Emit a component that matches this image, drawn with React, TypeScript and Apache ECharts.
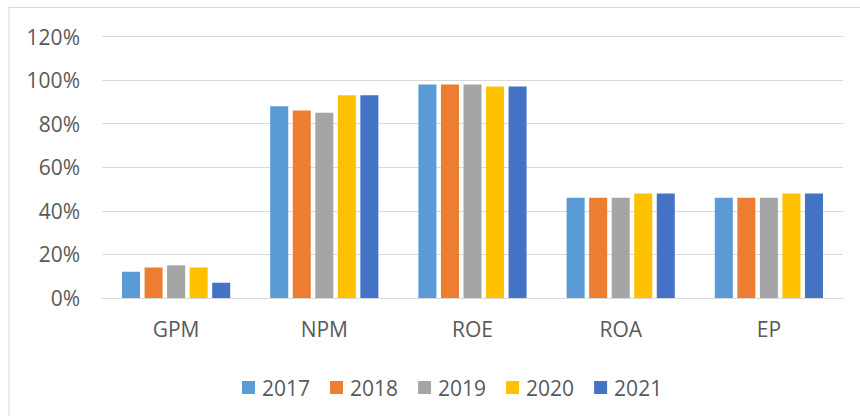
import React, { useEffect, useRef } from "react";
import * as echarts from "echarts";

const categories = ["GPM", "NPM", "ROE", "ROA", "EP"];
const years = ["2017", "2018", "2019", "2020", "2021"];
const v2017 = [12, 88, 98, 46, 46];
const v2018 = [14, 86, 98, 46, 46];
const v2019 = [15, 85, 98, 46, 46];
const v2020 = [14, 93, 97, 48, 48];
const v2021 = [7, 93, 97, 48, 48];
const colors = ["#5B9BD5", "#ED7D31", "#A5A5A5", "#FFC000", "#4472C4"];

const seriesValues = [v2017, v2018, v2019, v2020, v2021];
const FONT = "'Open Sans', sans-serif";
const TEXT = "#595959";

export default function App() {
  const ref = useRef<HTMLDivElement>(null);
  useEffect(() => {
    if (!ref.current) return;
    const chart = echarts.init(ref.current, undefined, { renderer: "svg" });
    chart.setOption({
      animation: false,
      color: colors,
      textStyle: { fontFamily: FONT },
      graphic: [
        {
          type: "rect",
          shape: { x: 9, y: 7.5, width: 900, height: 500 },
          style: { fill: "none", stroke: "#d9d9d9", lineWidth: 1 },
          silent: true,
        },
      ],
      grid: { left: 102, right: 17, top: 36.5, bottom: 118, containLabel: false },
      legend: {
        data: years,
        top: 372,
        left: 237,
        icon: "rect",
        itemWidth: 13,
        itemHeight: 13,
        itemGap: 20,
        textStyle: { fontSize: 21, color: TEXT, fontFamily: FONT, padding: [0, 0, 0, 2] },
      },
      xAxis: {
        type: "category",
        data: categories,
        axisTick: { show: false },
        axisLine: { lineStyle: { color: "#d9d9d9", width: 1 } },
        axisLabel: { fontSize: 21, color: TEXT, margin: 20, fontFamily: FONT },
      },
      yAxis: {
        type: "value",
        min: 0,
        max: 120,
        interval: 20,
        axisLine: { show: false },
        axisTick: { show: false },
        splitLine: { lineStyle: { color: "#d9d9d9", width: 1 } },
        axisLabel: {
          formatter: "{value}%",
          fontSize: 21,
          color: TEXT,
          margin: 22,
          fontFamily: FONT,
        },
      },
      series: years.map((y, i) => ({
        name: y,
        type: "bar",
        data: seriesValues[i],
        barGap: "25%",
        barCategoryGap: "27%",
      })),
    });
    return () => chart.dispose();
  }, []);
  return (
    <div
      ref={ref}
      style={{ position: "fixed", left: 0, top: 0, width: 860, height: 416, background: "#fff" }}
    />
  );
}
